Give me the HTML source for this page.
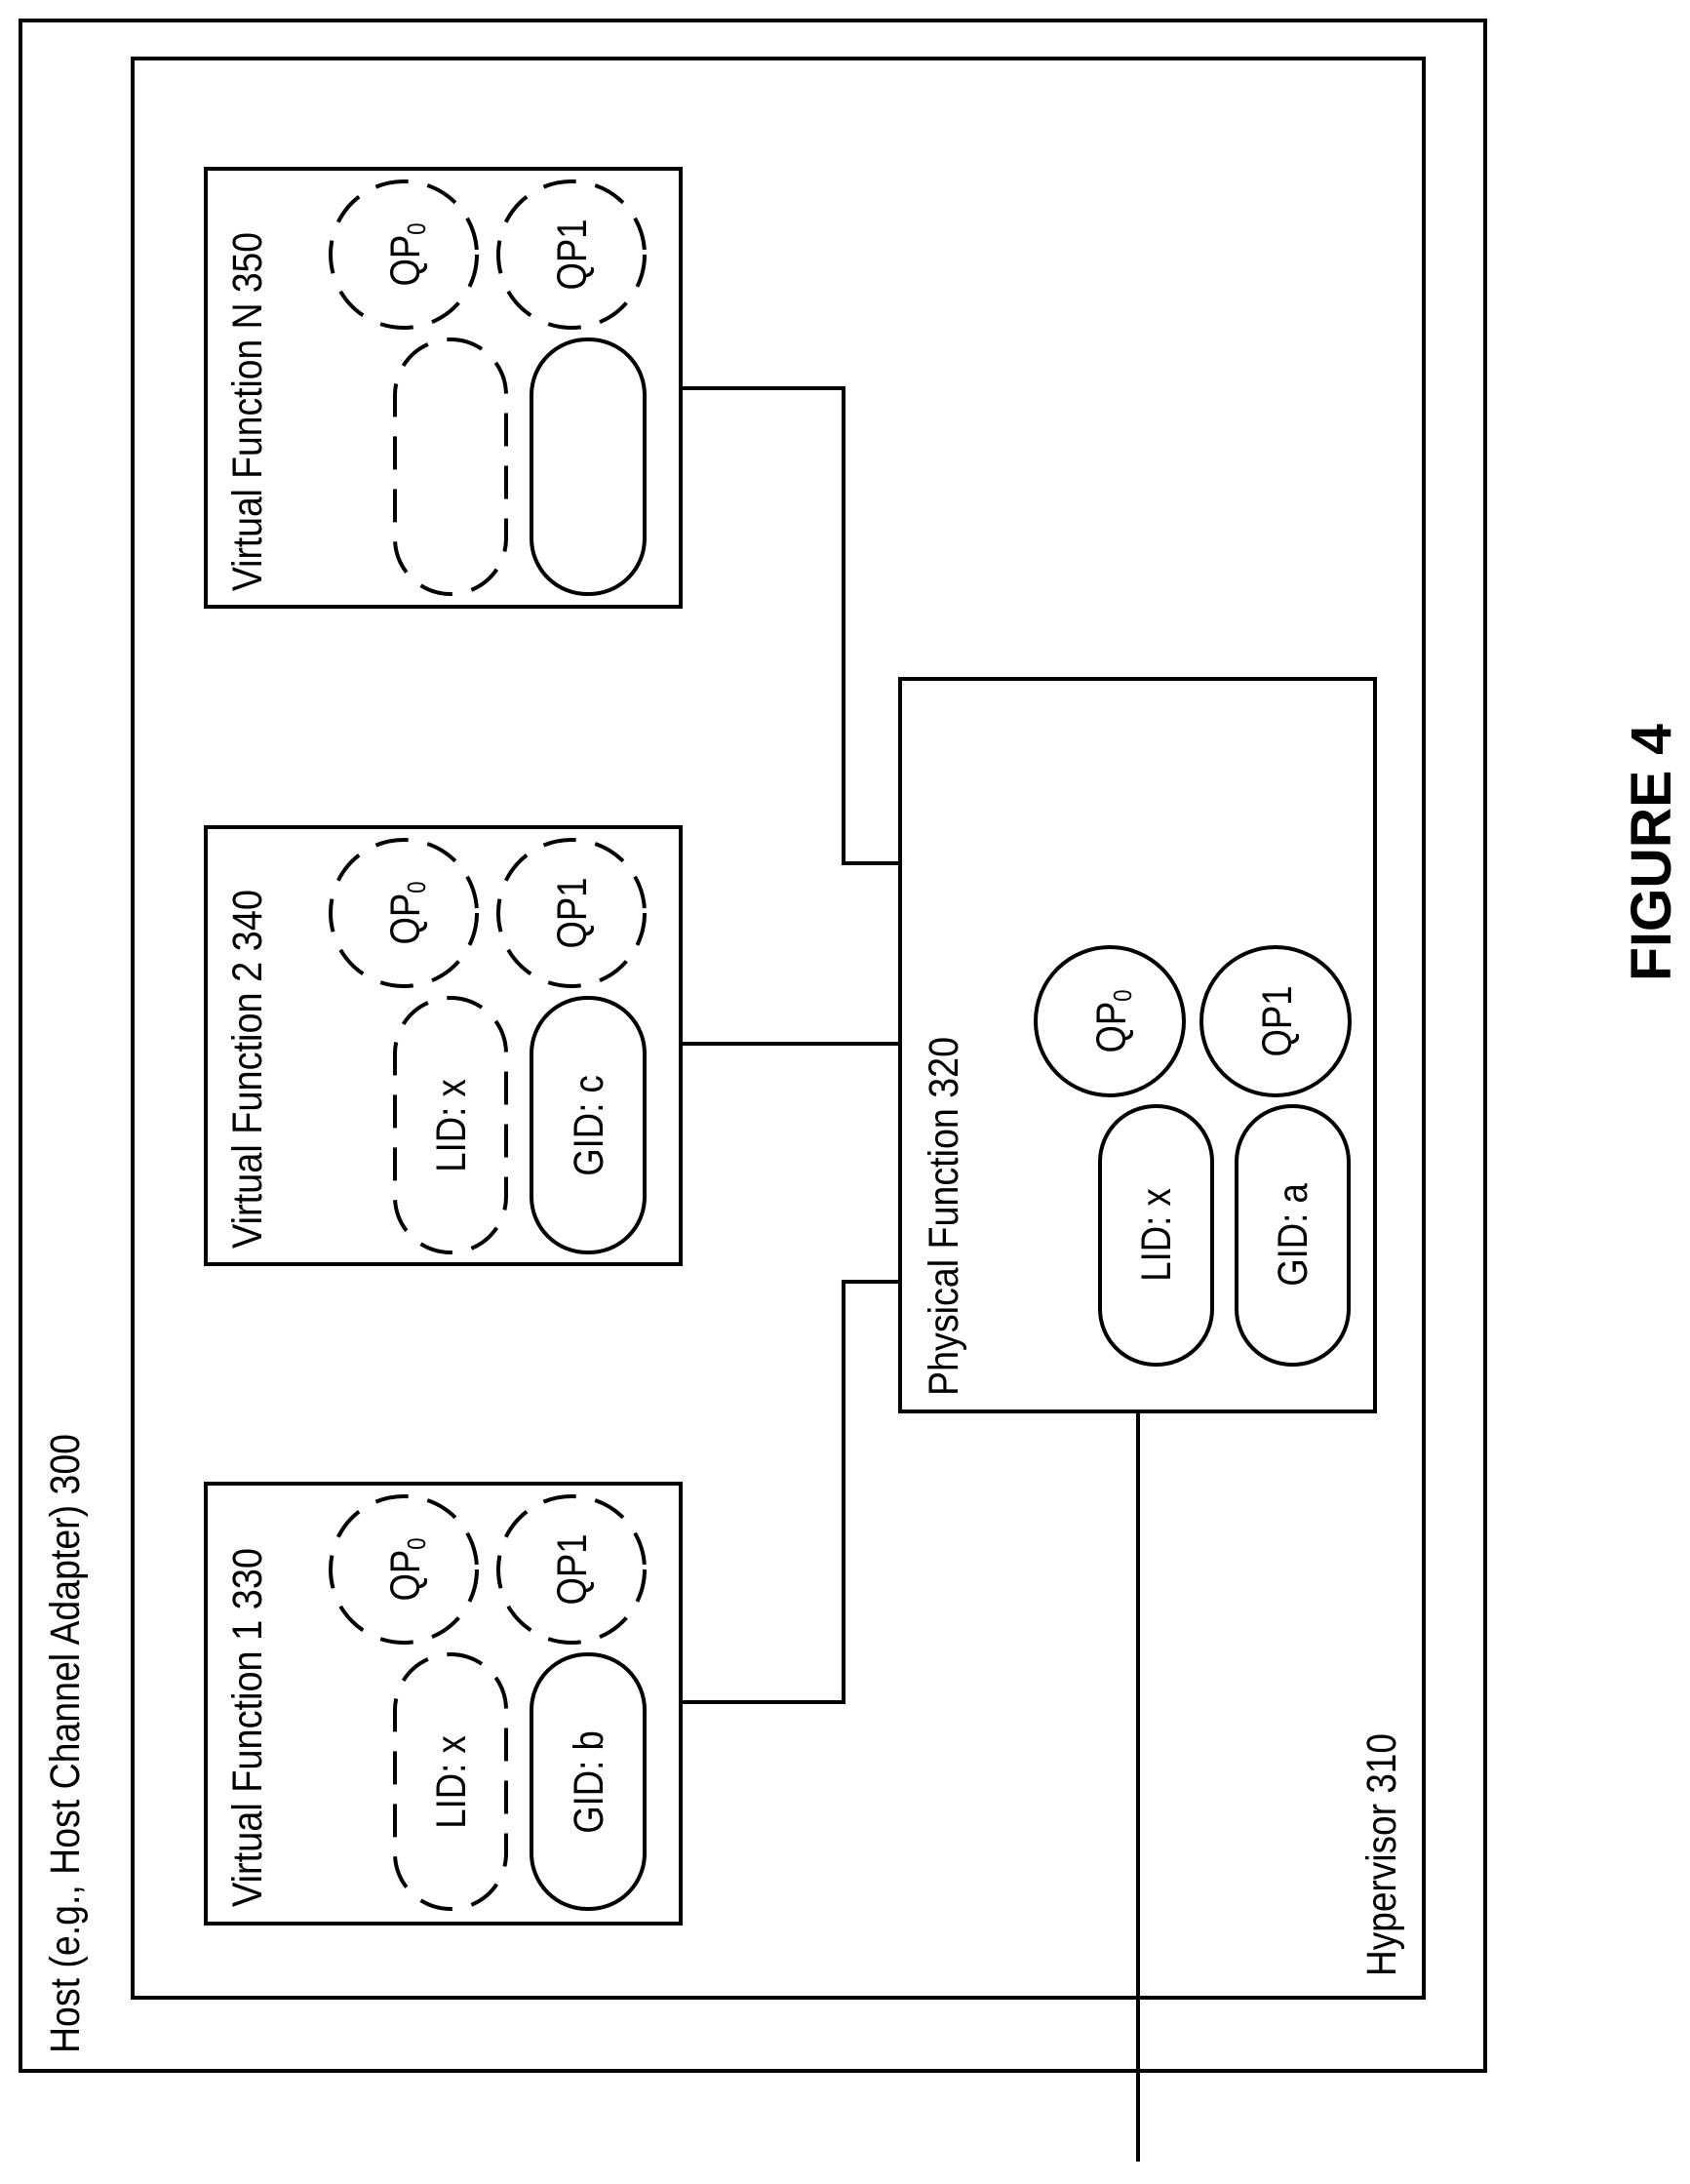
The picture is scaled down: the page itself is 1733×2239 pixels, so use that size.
<!DOCTYPE html>
<html><head><meta charset="utf-8"><style>html,body{margin:0;padding:0;background:#fff}svg{display:block}</style></head>
<body>
<svg width="1733" height="2239" viewBox="0 0 1733 2239" xmlns="http://www.w3.org/2000/svg" font-family="Liberation Sans, Arial, sans-serif" fill="none" stroke="#000" stroke-width="4">
<rect x="21" y="21" width="1502" height="2102"/>
<rect x="136" y="60" width="1324" height="1988"/>

<!-- connectors -->
<polyline points="698,398 865,398 865,885 923,885"/>
<line x1="698" y1="1070" x2="923" y2="1070"/>
<polyline points="698,1745 865,1745 865,1314 923,1314"/>
<line x1="1167" y1="1447" x2="1167" y2="2216"/>

<!-- VF N -->
<g>
<rect x="211" y="173" width="487" height="449"/>
<circle cx="414" cy="261" r="75" stroke-dasharray="34 20"/>
<circle cx="586" cy="261" r="75" stroke-dasharray="34 20"/>
<rect x="405" y="348" width="114" height="261" rx="57" stroke-dasharray="34 20"/>
<rect x="545" y="348" width="116" height="261" rx="57"/>
</g>
<!-- VF 2 -->
<g>
<rect x="211" y="848" width="487" height="448"/>
<circle cx="414" cy="936" r="75" stroke-dasharray="34 20"/>
<circle cx="586" cy="936" r="75" stroke-dasharray="34 20"/>
<rect x="405" y="1023" width="114" height="261" rx="57" stroke-dasharray="34 20"/>
<rect x="545" y="1023" width="116" height="261" rx="57"/>
</g>
<!-- VF 1 -->
<g>
<rect x="211" y="1521" width="487" height="451"/>
<circle cx="414" cy="1609" r="75" stroke-dasharray="34 20"/>
<circle cx="586" cy="1609" r="75" stroke-dasharray="34 20"/>
<rect x="405" y="1696" width="114" height="261" rx="57" stroke-dasharray="34 20"/>
<rect x="545" y="1696" width="116" height="261" rx="57"/>
</g>
<!-- PF -->
<g>
<rect x="923" y="696" width="487" height="751"/>
<circle cx="1138" cy="1047" r="76"/>
<circle cx="1308" cy="1047" r="76"/>
<rect x="1128" y="1134" width="115" height="265" rx="57"/>
<rect x="1268" y="1134" width="115" height="265" rx="57"/>
</g>

<g fill="#000" stroke="none" font-size="43">
<text transform="translate(81,2105) rotate(-90)" textLength="635" lengthAdjust="spacingAndGlyphs">Host (e.g., Host Channel Adapter) 300</text>
<text transform="translate(1431,2026) rotate(-90)" textLength="249" lengthAdjust="spacingAndGlyphs">Hypervisor 310</text>
<text transform="translate(268,606) rotate(-90)" textLength="368" lengthAdjust="spacingAndGlyphs">Virtual Function N 350</text>
<text transform="translate(268,1280) rotate(-90)" textLength="368" lengthAdjust="spacingAndGlyphs">Virtual Function 2 340</text>
<text transform="translate(268,1955) rotate(-90)" textLength="368" lengthAdjust="spacingAndGlyphs">Virtual Function 1 330</text>
<text transform="translate(982,1431) rotate(-90)" textLength="368" lengthAdjust="spacingAndGlyphs">Physical Function 320</text>

<!-- QP labels -->
<text transform="translate(430,261) rotate(-90) scale(0.85,1)" text-anchor="middle">QP<tspan font-size="26" dy="6">0</tspan></text>
<text transform="translate(601,261) rotate(-90) scale(0.85,1)" text-anchor="middle">QP1</text>
<text transform="translate(430,936) rotate(-90) scale(0.85,1)" text-anchor="middle">QP<tspan font-size="26" dy="6">0</tspan></text>
<text transform="translate(601,936) rotate(-90) scale(0.85,1)" text-anchor="middle">QP1</text>
<text transform="translate(430,1609) rotate(-90) scale(0.85,1)" text-anchor="middle">QP<tspan font-size="26" dy="6">0</tspan></text>
<text transform="translate(601,1609) rotate(-90) scale(0.85,1)" text-anchor="middle">QP1</text>
<text transform="translate(1154,1047) rotate(-90) scale(0.85,1)" text-anchor="middle">QP<tspan font-size="26" dy="6">0</tspan></text>
<text transform="translate(1324,1047) rotate(-90) scale(0.85,1)" text-anchor="middle">QP1</text>

<!-- pill labels -->
<text transform="translate(477,1154) rotate(-90) scale(0.85,1)" text-anchor="middle">LID: x</text>
<text transform="translate(618,1154) rotate(-90) scale(0.85,1)" text-anchor="middle">GID: c</text>
<text transform="translate(477,1827) rotate(-90) scale(0.85,1)" text-anchor="middle">LID: x</text>
<text transform="translate(618,1827) rotate(-90) scale(0.85,1)" text-anchor="middle">GID: b</text>
<text transform="translate(1200,1266) rotate(-90) scale(0.85,1)" text-anchor="middle">LID: x</text>
<text transform="translate(1340,1266) rotate(-90) scale(0.85,1)" text-anchor="middle">GID: a</text>

<text transform="translate(1713,874) rotate(-90)" text-anchor="middle" font-size="58" font-weight="bold" textLength="264" lengthAdjust="spacingAndGlyphs">FIGURE 4</text>
</g>
</svg>
</body></html>
